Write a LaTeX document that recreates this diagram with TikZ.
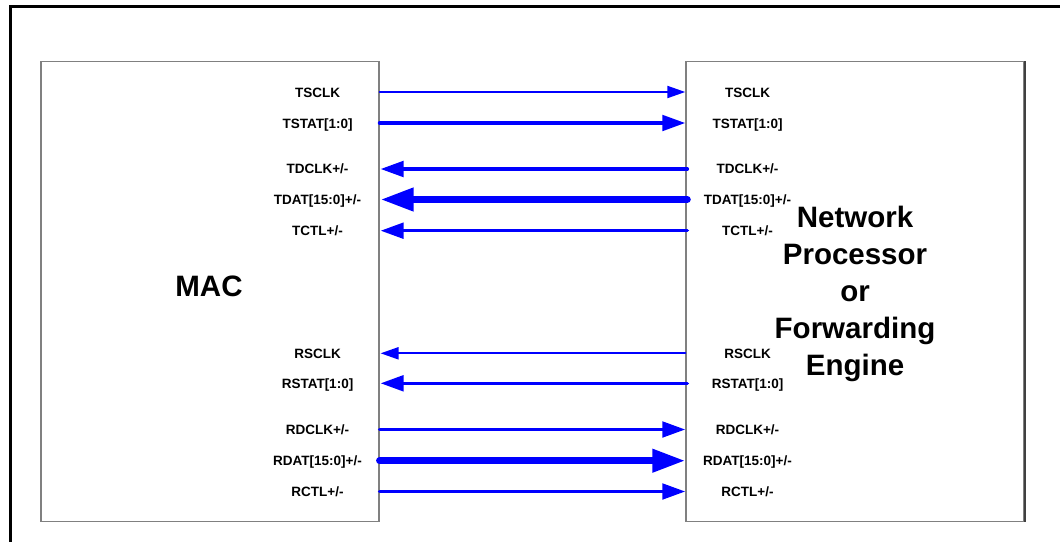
\documentclass[tikz,border=0pt]{standalone}
\usepackage{fontspec}
\setmainfont{Liberation Sans}
\usetikzlibrary{arrows.meta}
\definecolor{boxgray}{RGB}{128,128,128}
\definecolor{edgedark}{RGB}{64,64,64}
\definecolor{sigblue}{RGB}{0,0,255}
\tikzset{
  blk/.style={draw=boxgray, line width=1.4pt, minimum width=338pt, minimum height=460pt, inner sep=0pt},
  sig/.style={font=\fontsize{13.5}{16}\selectfont\bfseries, inner sep=0pt, anchor=base},
  big/.style={font=\fontsize{29.5}{37}\selectfont\bfseries, inner sep=0pt, align=center},
  wthin/.style={draw=sigblue, line width=2pt, line cap=round, -{Triangle[length=18pt,width=12pt]}},
  wmed/.style={draw=sigblue, line width=3.5pt, line cap=round, -{Triangle[length=23pt,width=15.5pt]}},
  wthick/.style={draw=sigblue, line width=7pt, line cap=round, -{Triangle[length=33pt,width=22pt]}},
}
\begin{document}
\begin{tikzpicture}[x=1pt,y=-1pt]
\useasboundingbox (0,0) rectangle (1060,541);
% outer frame
\draw[line width=2.5pt, line join=miter] (10.5,545) -- (10.5,6.7) -- (1065,6.7);
% blocks
\node[blk] (mac) at (209.85,291.7) {};
\node[blk] (np) at (855,291.7) {};
\draw[edgedark, line width=1.6pt] (np.north east) -- (np.south east);
\node[big, anchor=base] (mact) at (209,296) {MAC};
\node[big] (npt) at (855,294.4) {Network\\Processor\\or\\Forwarding\\Engine};
% rows
\coordinate (r1) at (0,92);
\coordinate (r2) at (0,123);
\coordinate (r3) at (0,169);
\coordinate (r4) at (0,199.5);
\coordinate (r5) at (0,230.7);
\coordinate (r6) at (0,353.3);
\coordinate (r7) at (0,383.3);
\coordinate (r8) at (0,429.5);
\coordinate (r9) at (0,460.7);
\coordinate (r10) at (0,491.5);
% left labels
\node[sig] (l1) at (317.5,97) {TSCLK};
\node[sig] (l2) at (317.5,128) {TSTAT[1:0]};
\node[sig] (l3) at (317.5,173.5) {TDCLK+/-};
\node[sig] (l4) at (317.5,204) {TDAT[15:0]+/-};
\node[sig] (l5) at (317.5,235) {TCTL+/-};
\node[sig] (l6) at (317.5,358) {RSCLK};
\node[sig] (l7) at (317.5,388) {RSTAT[1:0]};
\node[sig] (l8) at (317.5,434) {RDCLK+/-};
\node[sig] (l9) at (317.5,465) {RDAT[15:0]+/-};
\node[sig] (l10) at (317.5,496) {RCTL+/-};
% right labels
\node[sig] (q1) at (747.5,97) {TSCLK};
\node[sig] (q2) at (747.5,128) {TSTAT[1:0]};
\node[sig] (q3) at (747.5,173.5) {TDCLK+/-};
\node[sig] (q4) at (747.5,204) {TDAT[15:0]+/-};
\node[sig] (q5) at (747.5,235) {TCTL+/-};
\node[sig] (q6) at (747.5,358) {RSCLK};
\node[sig] (q7) at (747.5,388) {RSTAT[1:0]};
\node[sig] (q8) at (747.5,434) {RDCLK+/-};
\node[sig] (q9) at (747.5,465) {RDAT[15:0]+/-};
\node[sig] (q10) at (747.5,496) {RCTL+/-};
% connectors
\draw[wthin]  (mac.east |- r1) -- (np.west |- r1);
\draw[wmed]   (mac.east |- r2) -- (np.west |- r2);
\draw[wmed]   ([xshift=2pt]np.west |- r3) -- ([xshift=1pt]mac.east |- r3);
\draw[wthick] ([xshift=2pt]np.west |- r4) -- ([xshift=1pt]mac.east |- r4);
\draw[wmed]   ([xshift=2pt]np.west |- r5) -- ([xshift=1pt]mac.east |- r5);
\draw[wthin]  (np.west |- r6) -- ([xshift=1pt]mac.east |- r6);
\draw[wmed]   ([xshift=2pt]np.west |- r7) -- ([xshift=1pt]mac.east |- r7);
\draw[wmed]   (mac.east |- r8) -- (np.west |- r8);
\draw[wthick] (mac.east |- r9) -- (np.west |- r9);
\draw[wmed]   (mac.east |- r10) -- (np.west |- r10);
\end{tikzpicture}
\end{document}
